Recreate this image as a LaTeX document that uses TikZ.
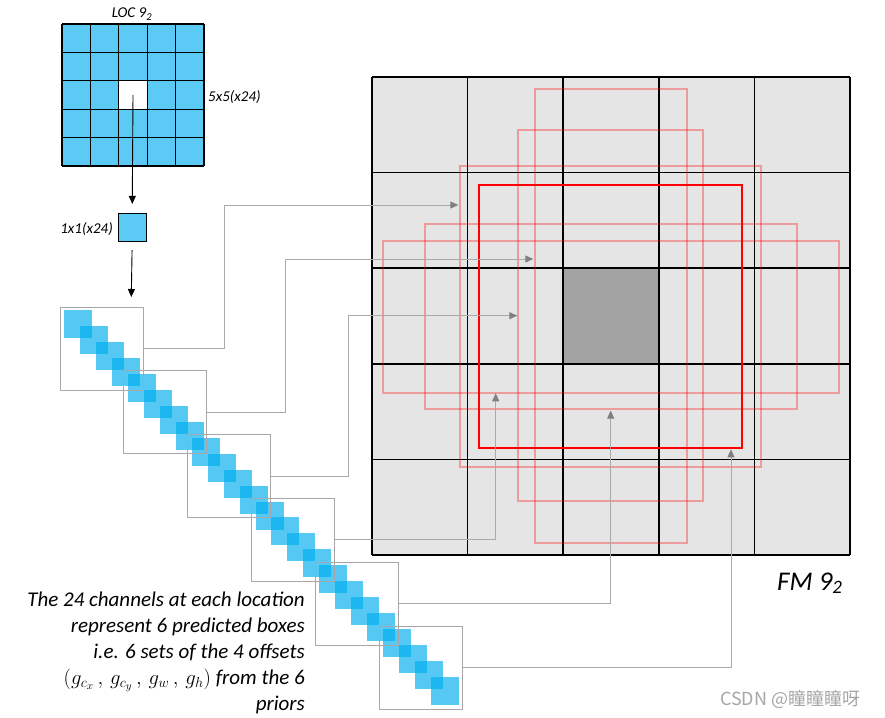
\documentclass[tikz,border=0pt]{standalone}
\usepackage{fontspec}
\setmainfont{Carlito}
\newfontfamily\cjkfont{Noto Sans CJK SC}
\usetikzlibrary{arrows.meta}
\definecolor{cellblue}{RGB}{91,203,245}
\definecolor{chanblue}{RGB}{0,174,239}
\definecolor{fmgray}{RGB}{229,229,229}
\definecolor{fmdark}{RGB}{163,163,163}
\definecolor{conngray}{RGB}{170,170,170}
\definecolor{tipgray}{RGB}{128,128,128}
\definecolor{boxgray}{RGB}{168,168,168}
\begin{document}
\begin{tikzpicture}[x=1pt,y=-1pt,
  blk/.style={draw=black, line width=0.9pt, -{Triangle[length=8pt,width=7pt]}},
  conn/.style={draw=conngray, line width=1pt, -{Triangle[length=8pt,width=7pt,color=tipgray]}},
  grpbox/.style={draw=boxgray, line width=1pt, minimum width=83pt, minimum height=83pt, inner sep=0pt},
  chan/.style={fill=chanblue, fill opacity=0.667},
  prior/.style={draw=red, draw opacity=0.32, line width=2pt},
  best/.style={draw=red, line width=2pt},
  lbl/.style={font=\itshape\fontsize{15}{18}\selectfont, inner sep=0pt},
  desc/.style={font=\itshape\fontsize{21}{26}\selectfont, inner sep=0pt, anchor=base east},
  gridline/.style={line width=1.3pt},
  fmline/.style={line width=1.5pt},
  ]
\useasboundingbox (0,0) rectangle (885,717);

% ---- LOC 5x5 grid ----
\node[fill=cellblue, minimum size=142pt, inner sep=0pt] (loc) at (133,95) {};
\node[fill=white, minimum size=28.4pt, inner sep=0pt] (w) at (133,95) {};
\foreach \i in {0,...,5} {
  \draw[gridline] (62+28.4*\i,24) -- (62+28.4*\i,166);
  \draw[gridline] (62,24+28.4*\i) -- (204,24+28.4*\i);
}
\node[lbl, anchor=base] (loclbl) at (132,18) {LOC 9\textsubscript{2}};
\node[lbl, anchor=base west] (fivelbl) at (208,101) {5x5(x24)};

% ---- 1x1 ----
\node[fill=cellblue, draw=black, line width=1.2pt, minimum width=28pt, minimum height=28pt, inner sep=0pt] (one) at (132.2,227.5) {};
\node[lbl, anchor=base east] (onelbl) at (113,233) {1x1(x24)};
\draw[blk, shorten >=9pt] (w.center) -- (one.north);
\coordinate (d1) at (131.3,297);
\draw[blk, shorten <=8pt] (one.south) -- (d1);

% ---- channel strip ----
\foreach \i in {0,...,23}
  \fill[chan] (64+15.96*\i,310+15.96*\i) rectangle ++(28,28);
\foreach \k in {1,...,6}
  \node[grpbox] (g\k) at (101.5+63.8*\k-63.8, 348.5+63.8*\k-63.8) {};

% ---- FM grid ----
\node[fill=fmgray, minimum size=478pt, inner sep=0pt] (fm) at (611,316) {};
\node[fill=fmdark, minimum size=95.6pt, inner sep=0pt] (ctr) at (611,316) {};
\foreach \i in {0,...,5} {
  \draw[fmline] (372+95.6*\i,77) -- (372+95.6*\i,555);
  \draw[fmline] (372,77+95.6*\i) -- (850,77+95.6*\i);
}
\draw[prior] (534.7,88.7) rectangle (687.3,543.3);
\draw[prior] (517.7,130) rectangle (703.3,501);
\draw[prior] (460,166) rectangle (761.3,467.3);
\draw[prior] (425,223.7) rectangle (796.7,409.3);
\draw[prior] (382.7,240.7) rectangle (838.7,392.7);
\draw[best] (479,185.3) rectangle (742.3,448.3);

% ---- connectors ----
\coordinate (b1) at (224.7,205);   \coordinate (t1) at (458.3,205);
\coordinate (b2) at (285.7,259);   \coordinate (t2) at (533.3,259);
\coordinate (b3) at (348.3,315.7); \coordinate (t3) at (517.3,315.7);
\coordinate (t4) at (495.7,393.3);
\coordinate (t5) at (610.7,410.5);
\coordinate (t6) at (731,449.3);
\draw[conn] (g1.east) -| (b1) -- (t1);
\draw[conn] (g2.east) -| (b2) -- (t2);
\draw[conn] (g3.east) -| (b3) -- (t3);
\draw[conn] (g4.east) -| (t4);
\draw[conn] (g5.east) -| (t5);
\draw[conn] (g6.east) -| (t6);

% ---- texts ----
\node[font=\itshape\fontsize{27}{32}\selectfont, anchor=base west, inner sep=0pt] (fmlbl) at (777,590) {FM 9\textsubscript{2}};
\node[desc] (l1) at (305,606.7) {The 24 channels at each location};
\node[desc] (l2) at (305,632.7) {represent 6 predicted boxes};
\node[desc] (l3) at (305,658.7) {i.e. 6 sets of the 4 offsets};
\node[desc] (l4) at (305,684.5) {$(g_{c_x}\,,\, g_{c_y}\,,\, g_w\,,\, g_h)$ from the 6};
\node[desc] (l5) at (305,710) {priors};
\node[font=\cjkfont\fontsize{18}{20}\selectfont, text=gray!70, anchor=base west, inner sep=0pt] (wm) at (720,705) {CSDN @瞳瞳瞳呀};
\end{tikzpicture}
\end{document}
